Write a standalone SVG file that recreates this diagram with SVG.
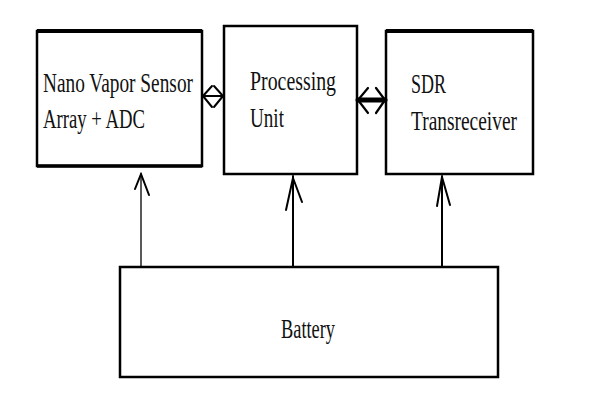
<svg xmlns="http://www.w3.org/2000/svg" width="591" height="405" viewBox="0 0 591 405">
<style>
.box{fill:#fff;stroke:#000;stroke-width:2.5}
.lbl{font-family:"Liberation Serif","Times New Roman",serif;font-size:28px;fill:#111}
.ln{fill:none;stroke:#000;stroke-linecap:round;stroke-linejoin:round}
</style>
<rect width="591" height="405" fill="#fff"/>
<g id="sensor">
<rect class="box" x="37" y="31" width="165" height="135"/>
<line x1="37" y1="31" x2="202" y2="31" stroke="#000" stroke-width="4"/>
<line x1="37" y1="166" x2="202" y2="166" stroke="#000" stroke-width="3.5"/>
<text class="lbl" x="43" y="92" textLength="150" lengthAdjust="spacingAndGlyphs">Nano Vapor Sensor</text>
<text class="lbl" x="43" y="128" textLength="102" lengthAdjust="spacingAndGlyphs">Array + ADC</text>
</g>
<g id="processing">
<rect class="box" x="224" y="26" width="133" height="148"/>
<text class="lbl" x="250" y="90" textLength="86" lengthAdjust="spacingAndGlyphs">Processing</text>
<text class="lbl" x="250" y="127" textLength="34" lengthAdjust="spacingAndGlyphs">Unit</text>
</g>
<g id="sdr">
<rect class="box" x="386" y="31" width="147" height="143"/>
<line x1="386" y1="31" x2="533" y2="31" stroke="#000" stroke-width="4"/>
<text class="lbl" x="411" y="93" textLength="35" lengthAdjust="spacingAndGlyphs">SDR</text>
<text class="lbl" x="411" y="130" textLength="106" lengthAdjust="spacingAndGlyphs">Transreceiver</text>
</g>
<g id="battery">
<rect class="box" x="120" y="267" width="378" height="110"/>
<text class="lbl" x="281" y="338" textLength="54" lengthAdjust="spacingAndGlyphs">Battery</text>
</g>
<g id="connectors">
<line class="ln" x1="141" y1="267" x2="141" y2="173" stroke-width="1.3"/>
<polyline class="ln" points="135,189 141,174 149,195" stroke-width="2"/>
<line class="ln" x1="293" y1="267" x2="293" y2="176" stroke-width="2"/>
<polyline class="ln" points="286,210 293,178 302,202" stroke-width="2"/>
<line class="ln" x1="442" y1="267" x2="442" y2="176" stroke-width="2"/>
<polyline class="ln" points="437,206 442,177 450,205" stroke-width="2"/>
<line class="ln" x1="202" y1="96" x2="224" y2="96" stroke-width="2"/>
<polyline class="ln" points="212,86 203,96 212,107" stroke-width="2"/>
<polyline class="ln" points="214,86 223,96 214,107" stroke-width="2"/>
<line class="ln" x1="358" y1="100" x2="385" y2="100" stroke-width="5"/>
<polyline class="ln" points="368,88 358,100 368,113" stroke-width="2.2"/>
<polyline class="ln" points="376,88 385,100 376,113" stroke-width="2.2"/>
</g>
</svg>
